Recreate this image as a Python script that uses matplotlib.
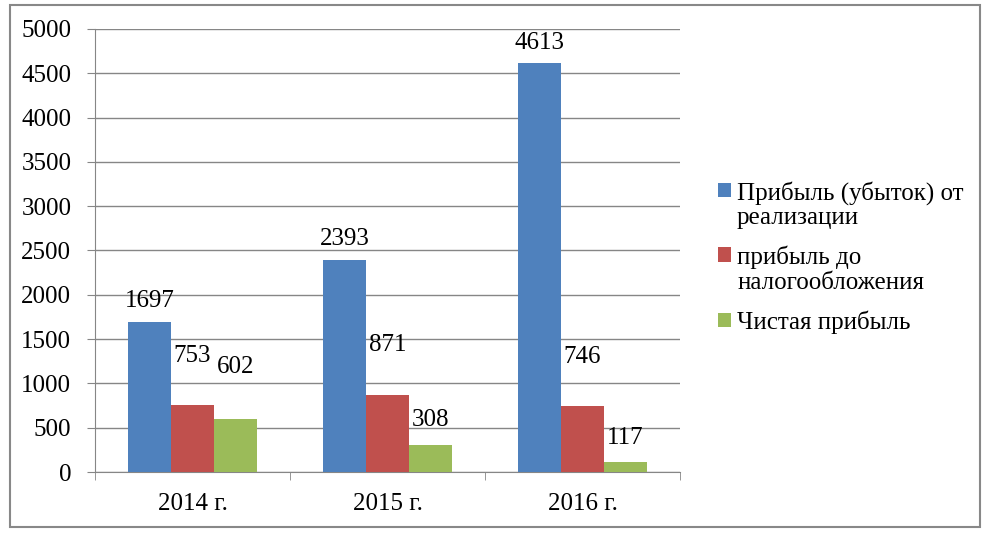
import matplotlib
matplotlib.use('Agg')
import matplotlib.pyplot as plt
import numpy as np
from matplotlib.patches import Rectangle
from matplotlib.container import BarContainer
from matplotlib.legend_handler import HandlerPatch, update_from_first_child

years = ['2014 г.', '2015 г.', '2016 г.']
series_names = ['Прибыль (убыток) от\nреализации', 'прибыль до\nналогообложения', 'Чистая прибыль']
sales_profit = [1697, 2393, 4613]
pretax_profit = [753, 871, 746]
net_profit = [602, 308, 117]

colors = ['#4F81BD', '#C0504D', '#9BBB59']
# label heights above bar tops, pixels (as placed in the original)
label_offsets = [[21, 21, 20], [49, 50, 49], [52, 25, 24]]

plt.rcParams['font.family'] = ['Liberation Serif', 'DejaVu Serif']
plt.rcParams['font.size'] = 18

fig = plt.figure(figsize=(9.83, 5.36), dpi=100)
ax = fig.add_axes([0.0966, 0.1194, 0.5952, 0.8265])

x = np.arange(len(years))
w = 0.22
values = [sales_profit, pretax_profit, net_profit]
for i, vals in enumerate(values):
    pos = x + (i - 1) * w
    ax.bar(pos, vals, w, color=colors[i], label=series_names[i], zorder=3)
    for j, v in enumerate(vals):
        ax.annotate(str(v), (pos[j], v), xytext=(0, label_offsets[i][j]),
                    textcoords='offset pixels', ha='center', va='center',
                    fontsize=18, zorder=4)

ax.set_xlim(-0.5, 2.5)
ax.set_ylim(0, 5000)
ax.set_yticks(range(0, 5001, 500))
ax.yaxis.grid(True, color='#868686', linewidth=1)
ax.set_axisbelow(True)

ax.set_xticks(x)
ax.set_xticklabels(years)
ax.set_xticks([-0.5, 0.5, 1.5, 2.5], minor=True)
ax.tick_params(axis='x', which='major', length=0, pad=15)
ax.tick_params(axis='x', which='minor', length=6, color='#868686')
ax.tick_params(axis='y', length=6, color='#868686', pad=11)

for s in ['top', 'right']:
    ax.spines[s].set_visible(False)
ax.spines['left'].set_color('#868686')
ax.spines['bottom'].set_color('#868686')


# legend square sits on the first line of a wrapped label, like Excel
def top_square(legend, orig_handle, xdescent, ydescent, width, height, fontsize):
    shift = 0.6 * fontsize if '\n' in orig_handle.get_label() else 0
    return Rectangle((-xdescent, -ydescent + shift), width, height)


leg = fig.legend(loc='center left', bbox_to_anchor=(0.718, 0.52), frameon=False,
                 handlelength=0.5, handleheight=0.5, handletextpad=0.25,
                 labelspacing=0.65, borderpad=0, fontsize=18,
                 handler_map={BarContainer: HandlerPatch(patch_func=top_square,
                                                         update_func=update_from_first_child)})
for t in leg.get_texts():
    t.set_linespacing(1.15)

fig.patches.append(Rectangle((0.0102, 0.0168), 0.9868, 0.9739, transform=fig.transFigure,
                             fill=False, edgecolor='#888888', linewidth=1.5))

fig.savefig('out.png', dpi=100)
